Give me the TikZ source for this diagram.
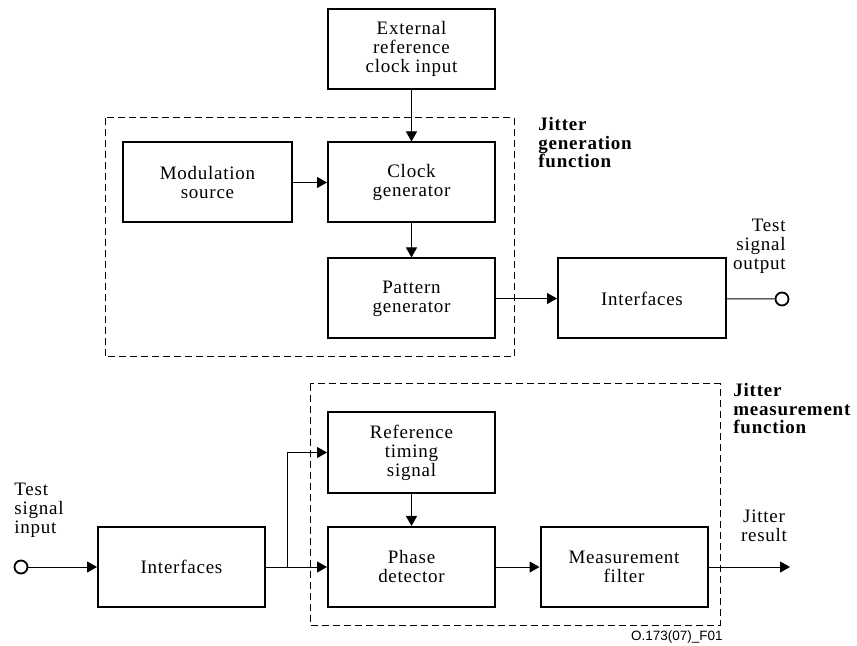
\documentclass[tikz,border=0pt]{standalone}
\usepackage{fontspec}
\setmainfont{Liberation Serif}[LetterSpace=4]
\setsansfont{Liberation Sans}
\usetikzlibrary{arrows.meta}

\begin{document}
\begin{tikzpicture}[x=0.5pt, y=-0.5pt, every node/.style={inner sep=0pt},
  font=\fontsize{9.5}{9.5}\selectfont,
  blk/.style={draw, line width=1pt, minimum width=83.5pt, minimum height=40pt, align=center},
  lbl/.style={align=left, font=\fontsize{9.5}{9.3}\selectfont\bfseries},
  grp/.style={draw, dash pattern=on 3.5pt off 2pt, line width=0.5pt},
  sig/.style={line width=0.5pt, -{Triangle[length=5pt,width=5.5pt]}},
  port/.style={circle, draw, line width=0.9pt, minimum size=6.5pt}]
  \useasboundingbox (0,0) rectangle (857,646);
  \draw[grp] (105,118) rectangle (514,357);
  \draw[grp] (310,384) rectangle (720,625);

  \node[blk] (ext) at (411.5,49) {External\\reference\\clock input};
  \node[blk, minimum width=84.5pt] (mod) at (207.5,182.5) {Modulation\\source};
  \node[blk] (clk) at (411.5,182.5) {Clock\\generator};
  \node[blk] (pat) at (411.5,298.5) {Pattern\\generator};
  \node[blk, minimum width=84pt] (ifout) at (642,298.5) {Interfaces};
  \node[port] (out) at (782,299) {};
  \node[anchor=north east, align=right] (outlbl) at (786,219) {Test\\signal\\output};
  \node[lbl, anchor=north west] (genlbl) at (538,117) {Jitter\\generation\\function};

  \node[port] (in) at (21,567) {};
  \node[anchor=north west, align=left] (inlbl) at (14,483) {Test\\signal\\input};
  \node[blk] (ifin) at (181.5,567) {Interfaces};
  \node[blk, minimum height=40.5pt] (ref) at (411.5,452.5) {Reference\\timing\\signal};
  \node[blk] (phd) at (411.5,567) {Phase\\detector};
  \node[blk] (mf) at (624,567) {Measurement\\filter};
  \coordinate (br) at (287,567);
  \coordinate (res) at (790,567);
  \node[anchor=north, align=center] (reslbl) at (764,510) {Jitter\\result};
  \node[lbl, anchor=north west] (measlbl) at (733,383) {Jitter\\measurement\\function};
  \node[font=\fontsize{6.75}{7}\selectfont\sffamily, anchor=base east] (fig) at (723,640) {O.173(07)\_F01};

  \draw[sig] (ext) -- (clk);
  \draw[sig] (mod) -- (clk);
  \draw[sig] (clk) -- (pat);
  \draw[sig] (pat) -- (ifout);
  \draw[line width=0.5pt] (ifout) -- (out);
  \draw[sig] (in) -- (ifin);
  \draw[sig] (ifin) -- (phd);
  \draw[sig] (br) |- (ref);
  \draw[sig] (ref) -- (phd);
  \draw[sig] (phd) -- (mf);
  \draw[sig] (mf) -- (res);
\end{tikzpicture}
\end{document}
